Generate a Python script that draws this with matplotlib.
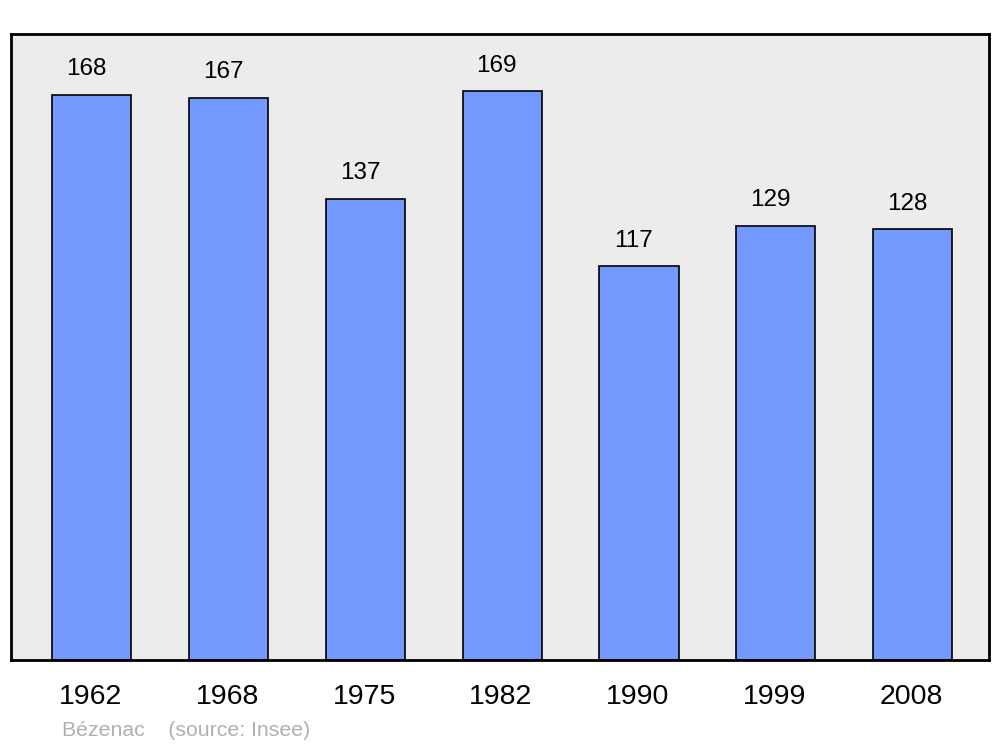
import matplotlib.pyplot as plt
import matplotlib.transforms as mtransforms

plt.rcParams['font.family'] = ['Liberation Sans', 'DejaVu Sans']

years = ['1962', '1968', '1975', '1982', '1990', '1999', '2008']
population = [168, 167, 137, 169, 117, 129, 128]
place = 'Bézenac'
source = '(source: Insee)'

fig = plt.figure(figsize=(10, 7.47), dpi=100)
ax = fig.add_axes([0.011, 1 - 660 / 747, 0.978, (660 - 34) / 747])
ax.set_facecolor('#ececec')

x = list(range(len(years)))
ax.bar(x, population, width=0.578, color='#7399ff', edgecolor='black', linewidth=1.2)

for xi, v in zip(x, population):
    ax.text(xi - 0.04, v + 7.6, str(v), ha='center', va='center', fontsize=17.5)

ax.set_xlim(-0.592, 6.559)
ax.set_ylim(0, 186)
ax.set_yticks([])
ax.set_xticks([])
for s in ax.spines.values():
    s.set_linewidth(2)

# year labels below the axes
trans = mtransforms.blended_transform_factory(ax.transData, fig.transFigure)
for xi, yr in zip(x, years):
    ax.text(xi - 0.01, 1 - 697 / 747, yr, transform=trans, ha='center', va='center',
            fontsize=20.5, clip_on=False)

fig.text(0.062, 1 - 731 / 747, place + '    ' + source, color='#b0b0b0',
         fontsize=15.3, va='center', ha='left')

fig.savefig('out.png', dpi=100)
